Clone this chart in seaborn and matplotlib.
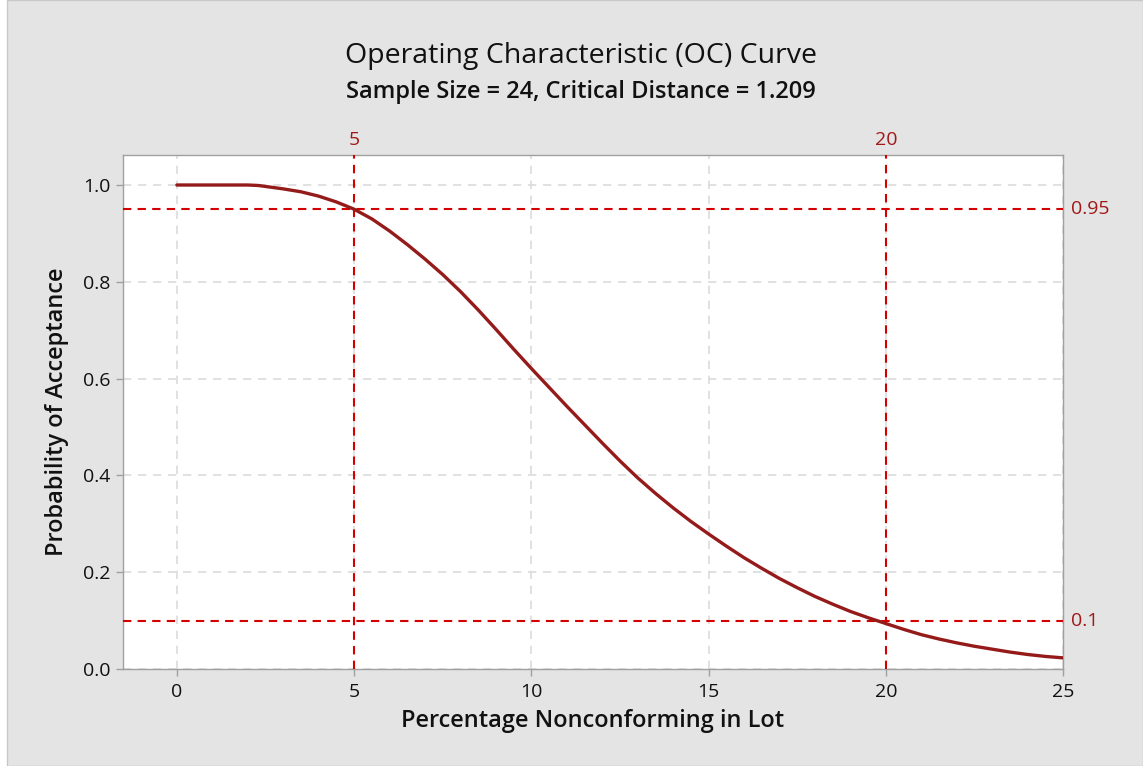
import matplotlib
matplotlib.use("Agg")
import matplotlib.pyplot as plt
import seaborn as sns
import pandas as pd
from matplotlib.patches import Rectangle

# ---- data ----
pct_nonconforming = [0, 1, 2, 2.3, 3, 3.5, 4, 4.5, 5, 5.5, 6, 6.5, 7, 7.5, 8, 8.5,
                     9, 9.5, 10, 10.5, 11, 11.5, 12, 12.5, 13, 13.5, 14, 14.5,
                     15, 15.5, 16, 16.5, 17, 17.5, 18, 18.5, 19, 19.5, 20, 20.5,
                     21, 21.5, 22, 22.5, 23, 23.5, 24, 24.5, 25]
prob_acceptance = [1.0, 1.0, 1.0, 0.999, 0.992, 0.986, 0.977, 0.965, 0.950,
                   0.930, 0.905, 0.877, 0.847, 0.815, 0.780, 0.742, 0.702,
                   0.661, 0.621, 0.582, 0.543, 0.505, 0.467, 0.430, 0.395,
                   0.363, 0.333, 0.305, 0.279, 0.254, 0.230, 0.208, 0.187,
                   0.168, 0.150, 0.134, 0.119, 0.106, 0.094, 0.082, 0.071,
                   0.062, 0.054, 0.047, 0.041, 0.035, 0.030, 0.026, 0.023]
ref_x = [5, 20]
ref_y = [0.95, 0.1]
ref_y_labels = ["0.95", "0.1"]
x_ticks = [0, 5, 10, 15, 20, 25]
y_ticks = [0.0, 0.2, 0.4, 0.6, 0.8, 1.0]

df = pd.DataFrame({"x": pct_nonconforming, "y": prob_acceptance})

sns.set_theme(style="white")
plt.rcParams["font.family"] = ["Open Sans", "DejaVu Sans"]

W, H = 1143, 766
fig = plt.figure(figsize=(W / 100, H / 100), dpi=100, facecolor="white")
# gray figure panel with thin border at left
fig.patches.append(Rectangle((7 / W, 0), 1 - 7 / W, 1, transform=fig.transFigure,
                             facecolor="#E4E4E4", edgecolor="#C8C8C8", lw=1.0, zorder=-10))

ax = fig.add_axes([123 / W, 1 - 669 / H, (1063 - 123) / W, (669 - 155) / H])
ax.set_facecolor("white")

sns.lineplot(data=df, x="x", y="y", ax=ax, color="#951B1B", lw=2.4, zorder=5)

ax.set_xlim(-1.52, 25)
ax.set_ylim(0, 1.062)
ax.set_xticks(x_ticks)
ax.set_yticks(y_ticks)
ax.set_xticklabels([str(t) for t in x_ticks])
ax.set_yticklabels([f"{t:.1f}" for t in y_ticks])

ax.grid(True, color="#DCDCDC", linestyle=(0, (5, 4)), lw=1.2, zorder=0)

for s in ax.spines.values():
    s.set_color("#A0A0A0")
    s.set_linewidth(1.0)

ax.tick_params(axis="both", which="major", length=5, width=1, color="#A0A0A0",
               labelsize=14, labelcolor="#111111", direction="out",
               bottom=True, left=True)
ax.tick_params(axis="x", pad=5)
ax.tick_params(axis="y", pad=4)

red = "#D40000"
lab_red = "#A01818"
for xv in ref_x:
    ax.axvline(xv, color=red, linestyle=(0, (4, 3)), lw=1.5, zorder=4)
    ax.text(xv, 1.062 + 0.012, str(xv), ha="center", va="bottom",
            color=lab_red, fontsize=14, clip_on=False)
for yv, lab in zip(ref_y, ref_y_labels):
    ax.axhline(yv, color=red, linestyle=(0, (4, 3)), lw=1.5, zorder=4)
    ax.text(25.22, yv, lab, ha="left", va="center", color=lab_red,
            fontsize=14, clip_on=False)

ax.set_xlabel("Percentage Nonconforming in Lot", fontsize=17, fontweight="semibold",
              color="#111111", labelpad=6)
ax.set_ylabel("Probability of Acceptance", fontsize=17, fontweight="semibold",
              color="#111111", labelpad=10)

fig.text(581 / W, 1 - 56 / H, "Operating Characteristic (OC) Curve",
         ha="center", va="center", fontsize=20.5, color="#111111")
fig.text(581 / W, 1 - 92 / H, "Sample Size = 24, Critical Distance = 1.209",
         ha="center", va="center", fontsize=17, fontweight="semibold", color="#111111")

fig.savefig("out.png", dpi=100, facecolor=fig.get_facecolor())
